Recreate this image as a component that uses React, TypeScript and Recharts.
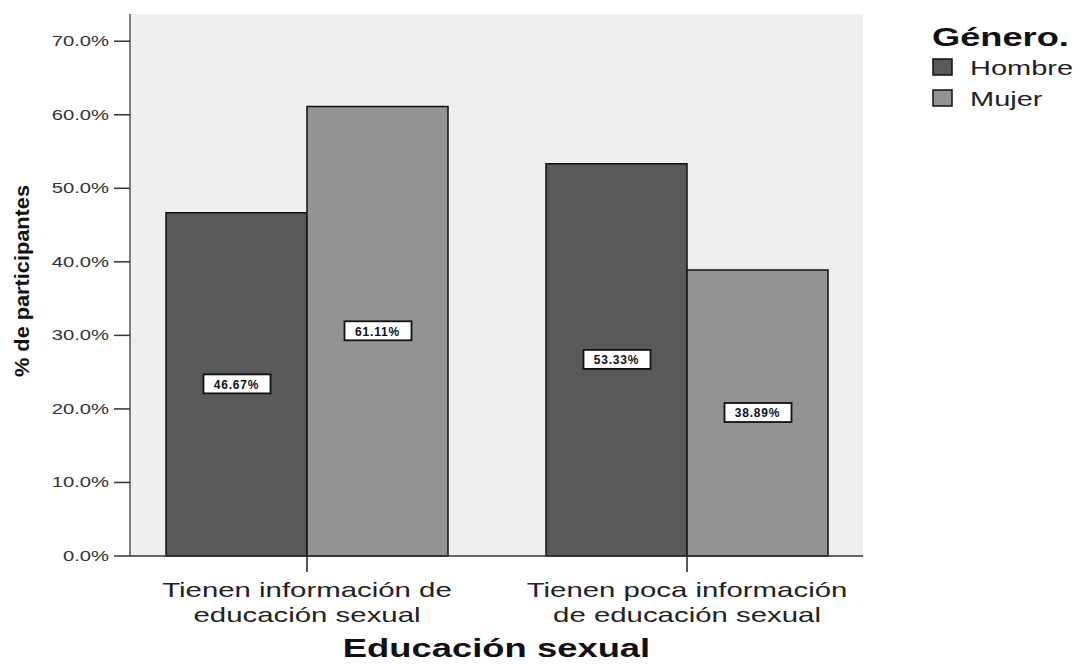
import React from 'react';
import { BarChart, Bar, XAxis, YAxis, CartesianGrid, LabelList } from 'recharts';

const categories = ['Tienen información de educación sexual', 'Tienen poca información de educación sexual'];
const categoryLines = [
    ['Tienen información de', 'educación sexual'],
    ['Tienen poca información', 'de educación sexual'],
];
const hombre = [46.67, 53.33];
const mujer = [61.11, 38.89];
const yTicks = [0, 10, 20, 30, 40, 50, 60, 70];
const seriesNames = ['Hombre', 'Mujer'];
const COLORS = ['#595959', '#939393'];

const data = categories.map((name, i) => ({ name, lines: categoryLines[i], Hombre: hombre[i], Mujer: mujer[i] }));

const FONT = '"Liberation Sans", Arial, sans-serif';
const STRETCH = 1.4;

const XTick = (props: any) => {
    const { x, y, payload } = props;
    const lines = categoryLines[categories.indexOf(payload.value)] || [payload.value];
    return (
        <g transform={`translate(${x},${y}) scale(${STRETCH},1)`}>
            {lines.map((line, i) => (
                <text key={i} x={0} y={23 + i * 25} textAnchor='middle' fontFamily={FONT} fontSize={21} fill='#222'>
                    {line}
                </text>
            ))}
        </g>
    );
};

const YTick = (props: any) => {
    const { x, y, payload } = props;
    return (
        <g transform={`translate(${x - 3},${y}) scale(1.35,1)`}>
            <text x={0} y={5} textAnchor='end' fontFamily={FONT} fontSize={15} fill='#333'>
                {payload.value.toFixed(1)}%
            </text>
        </g>
    );
};

const ValueLabel = (props: any) => {
    const { x, y, width, height, value } = props;
    const cx = x + width / 2;
    const cy = y + height / 2;
    return (
        <g>
            <rect x={cx - 33} y={cy - 10} width={67} height={19} fill='#fff' stroke='#111' strokeWidth={1.8} />
            <text
                x={cx}
                y={cy + 4.5}
                textAnchor='middle'
                fontFamily={FONT}
                fontSize={12}
                fontWeight={600}
                letterSpacing={0.8}
                fill='#111'
            >
                {Number(value).toFixed(2)}%
            </text>
        </g>
    );
};

const YTitle = () => (
    <text
        x={0}
        y={0}
        transform='translate(29,281) rotate(-90)'
        textAnchor='middle'
        fontFamily={FONT}
        fontWeight='bold'
        fontSize={20}
        textLength={192}
        lengthAdjust='spacingAndGlyphs'
        fill='#111'
    >
        % de participantes
    </text>
);

const XTitle = (props: any) => {
    const { viewBox } = props;
    const cx = viewBox.x + viewBox.width / 2;
    return (
        <g transform={`translate(${cx},${viewBox.y + 101}) scale(${STRETCH},1)`}>
            <text x={0} y={0} textAnchor='middle' fontFamily={FONT} fontWeight='bold' fontSize={26} fill='#111'>
                Educación sexual
            </text>
        </g>
    );
};

const LegendBox = () => (
    <svg width={160} height={120} style={{ position: 'absolute', left: 920, top: 0 }}>
        <g transform={`translate(12,46) scale(1.45,1)`}>
            <text x={0} y={0} fontFamily={FONT} fontWeight='bold' fontSize={25} fill='#111'>
                Género.
            </text>
        </g>
        {seriesNames.map((s, i) => (
            <g key={s}>
                <rect x={13} y={59 + i * 31} width={19} height={16} fill={COLORS[i]} stroke='#111' strokeWidth={1.5} />
                <g transform={`translate(50,${75 + i * 31}) scale(1.45,1)`}>
                    <text x={0} y={0} fontFamily={FONT} fontSize={20} fill='#222'>
                        {s}
                    </text>
                </g>
            </g>
        ))}
    </svg>
);

export default function App() {
    return (
        <div style={{ position: 'absolute', left: 0, top: 0, width: 1080, height: 664, background: '#fff' }}>
            <BarChart
                width={1080}
                height={664}
                data={data}
                margin={{ top: 14, right: 217, bottom: 0, left: 0 }}
                barGap={0}
                barSize={141}
            >
                <CartesianGrid horizontal={false} vertical={false} fill='#efefef' />
                <XAxis
                    dataKey='name'
                    height={108}
                    padding={{ left: -13, right: -14 }}
                    tickSize={16}
                    tickLine={{ stroke: '#222', strokeWidth: 1.5 }}
                    axisLine={{ stroke: '#333', strokeWidth: 1.5 }}
                    tick={<XTick />}
                    interval={0}
                    label={<XTitle />}
                />
                <XAxis xAxisId='top' dataKey='name' orientation='top' height={0} tick={false} tickLine={false} axisLine={{ stroke: '#555', strokeWidth: 1.5 }} />
                <YAxis
                    width={130}
                    domain={[0, 73.7]}
                    ticks={yTicks}
                    tickSize={16}
                    tickLine={{ stroke: '#333', strokeWidth: 1.5 }}
                    axisLine={{ stroke: '#555', strokeWidth: 1.5 }}
                    tick={<YTick />}
                    label={<YTitle />}
                />
                <YAxis yAxisId='right' orientation='right' width={0} domain={[0, 73.7]} tick={false} tickLine={false} axisLine={{ stroke: '#555', strokeWidth: 1.5 }} />
                {seriesNames.map((s, i) => (
                    <Bar key={s} dataKey={s} fill={COLORS[i]} stroke='#111' strokeWidth={1.5} isAnimationActive={false}>
                        <LabelList dataKey={s} content={<ValueLabel />} />
                    </Bar>
                ))}
            </BarChart>
            <LegendBox />
        </div>
    );
}
